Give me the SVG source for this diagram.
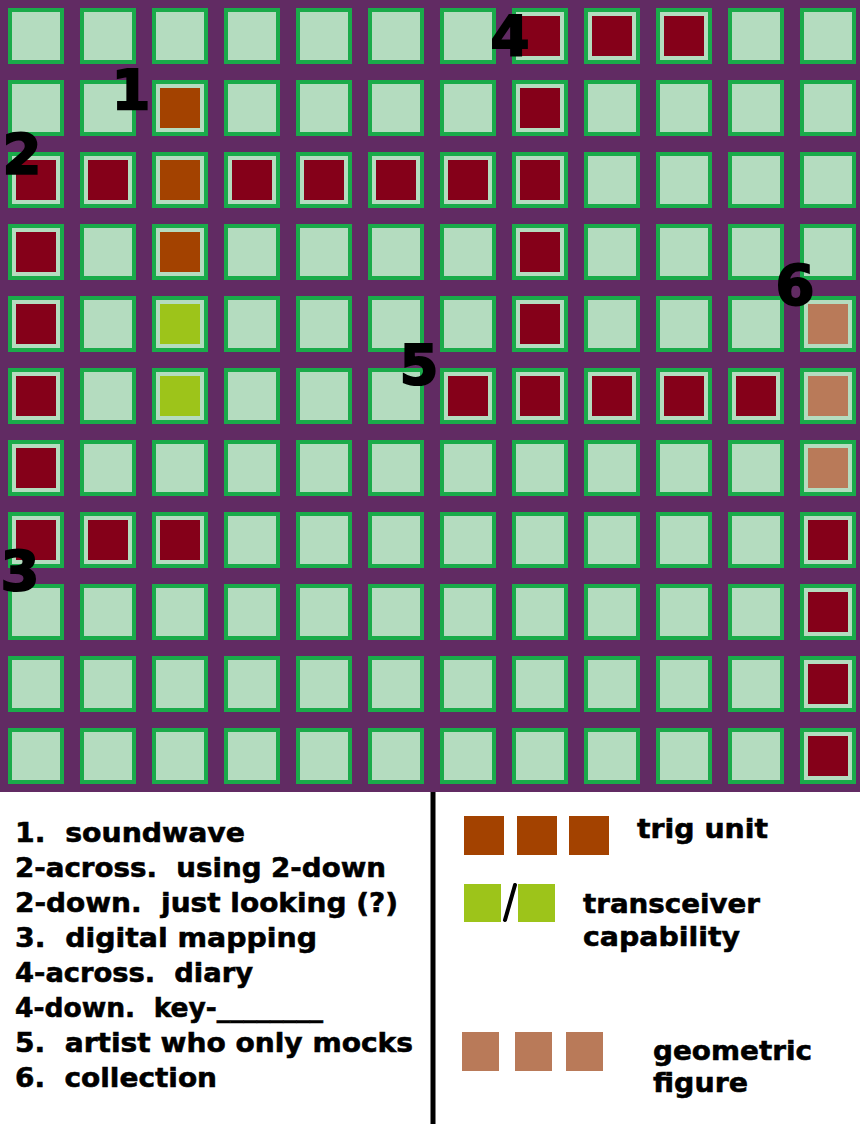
<svg xmlns="http://www.w3.org/2000/svg" width="860" height="1126" viewBox="0 0 860 1126">
<style>
.cell{fill:#b4dcbf;stroke:#1aab4a;stroke-width:4}
.red{fill:#850019}
.org{fill:#a34200}
.lime{fill:#9dc41a}
.tan{fill:#b97a59}
.num{font-family:"DejaVu Sans",sans-serif;font-weight:bold;font-size:56px;fill:#000;stroke:#000;stroke-width:2;text-anchor:middle}
.clue{font-family:"DejaVu Sans",sans-serif;font-weight:bold;font-size:26px;fill:#000;stroke:#000;stroke-width:0.55;white-space:pre}
</style>
<rect x="0" y="0" width="860" height="1126" fill="#ffffff"/>
<rect id="board" x="0" y="0" width="860" height="792" fill="#612b63"/>
<g id="cells">
<g id="r0c0"><rect class="cell" x="10" y="10" width="52" height="52"/></g>
<g id="r0c1"><rect class="cell" x="82" y="10" width="52" height="52"/></g>
<g id="r0c2"><rect class="cell" x="154" y="10" width="52" height="52"/></g>
<g id="r0c3"><rect class="cell" x="226" y="10" width="52" height="52"/></g>
<g id="r0c4"><rect class="cell" x="298" y="10" width="52" height="52"/></g>
<g id="r0c5"><rect class="cell" x="370" y="10" width="52" height="52"/></g>
<g id="r0c6"><rect class="cell" x="442" y="10" width="52" height="52"/></g>
<g id="r0c7"><rect class="cell" x="514" y="10" width="52" height="52"/><rect class="red" x="520" y="16" width="40" height="40"/></g>
<g id="r0c8"><rect class="cell" x="586" y="10" width="52" height="52"/><rect class="red" x="592" y="16" width="40" height="40"/></g>
<g id="r0c9"><rect class="cell" x="658" y="10" width="52" height="52"/><rect class="red" x="664" y="16" width="40" height="40"/></g>
<g id="r0c10"><rect class="cell" x="730" y="10" width="52" height="52"/></g>
<g id="r0c11"><rect class="cell" x="802" y="10" width="52" height="52"/></g>

<g id="r1c0"><rect class="cell" x="10" y="82" width="52" height="52"/></g>
<g id="r1c1"><rect class="cell" x="82" y="82" width="52" height="52"/></g>
<g id="r1c2"><rect class="cell" x="154" y="82" width="52" height="52"/><rect class="org" x="160" y="88" width="40" height="40"/></g>
<g id="r1c3"><rect class="cell" x="226" y="82" width="52" height="52"/></g>
<g id="r1c4"><rect class="cell" x="298" y="82" width="52" height="52"/></g>
<g id="r1c5"><rect class="cell" x="370" y="82" width="52" height="52"/></g>
<g id="r1c6"><rect class="cell" x="442" y="82" width="52" height="52"/></g>
<g id="r1c7"><rect class="cell" x="514" y="82" width="52" height="52"/><rect class="red" x="520" y="88" width="40" height="40"/></g>
<g id="r1c8"><rect class="cell" x="586" y="82" width="52" height="52"/></g>
<g id="r1c9"><rect class="cell" x="658" y="82" width="52" height="52"/></g>
<g id="r1c10"><rect class="cell" x="730" y="82" width="52" height="52"/></g>
<g id="r1c11"><rect class="cell" x="802" y="82" width="52" height="52"/></g>

<g id="r2c0"><rect class="cell" x="10" y="154" width="52" height="52"/><rect class="red" x="16" y="160" width="40" height="40"/></g>
<g id="r2c1"><rect class="cell" x="82" y="154" width="52" height="52"/><rect class="red" x="88" y="160" width="40" height="40"/></g>
<g id="r2c2"><rect class="cell" x="154" y="154" width="52" height="52"/><rect class="org" x="160" y="160" width="40" height="40"/></g>
<g id="r2c3"><rect class="cell" x="226" y="154" width="52" height="52"/><rect class="red" x="232" y="160" width="40" height="40"/></g>
<g id="r2c4"><rect class="cell" x="298" y="154" width="52" height="52"/><rect class="red" x="304" y="160" width="40" height="40"/></g>
<g id="r2c5"><rect class="cell" x="370" y="154" width="52" height="52"/><rect class="red" x="376" y="160" width="40" height="40"/></g>
<g id="r2c6"><rect class="cell" x="442" y="154" width="52" height="52"/><rect class="red" x="448" y="160" width="40" height="40"/></g>
<g id="r2c7"><rect class="cell" x="514" y="154" width="52" height="52"/><rect class="red" x="520" y="160" width="40" height="40"/></g>
<g id="r2c8"><rect class="cell" x="586" y="154" width="52" height="52"/></g>
<g id="r2c9"><rect class="cell" x="658" y="154" width="52" height="52"/></g>
<g id="r2c10"><rect class="cell" x="730" y="154" width="52" height="52"/></g>
<g id="r2c11"><rect class="cell" x="802" y="154" width="52" height="52"/></g>

<g id="r3c0"><rect class="cell" x="10" y="226" width="52" height="52"/><rect class="red" x="16" y="232" width="40" height="40"/></g>
<g id="r3c1"><rect class="cell" x="82" y="226" width="52" height="52"/></g>
<g id="r3c2"><rect class="cell" x="154" y="226" width="52" height="52"/><rect class="org" x="160" y="232" width="40" height="40"/></g>
<g id="r3c3"><rect class="cell" x="226" y="226" width="52" height="52"/></g>
<g id="r3c4"><rect class="cell" x="298" y="226" width="52" height="52"/></g>
<g id="r3c5"><rect class="cell" x="370" y="226" width="52" height="52"/></g>
<g id="r3c6"><rect class="cell" x="442" y="226" width="52" height="52"/></g>
<g id="r3c7"><rect class="cell" x="514" y="226" width="52" height="52"/><rect class="red" x="520" y="232" width="40" height="40"/></g>
<g id="r3c8"><rect class="cell" x="586" y="226" width="52" height="52"/></g>
<g id="r3c9"><rect class="cell" x="658" y="226" width="52" height="52"/></g>
<g id="r3c10"><rect class="cell" x="730" y="226" width="52" height="52"/></g>
<g id="r3c11"><rect class="cell" x="802" y="226" width="52" height="52"/></g>

<g id="r4c0"><rect class="cell" x="10" y="298" width="52" height="52"/><rect class="red" x="16" y="304" width="40" height="40"/></g>
<g id="r4c1"><rect class="cell" x="82" y="298" width="52" height="52"/></g>
<g id="r4c2"><rect class="cell" x="154" y="298" width="52" height="52"/><rect class="lime" x="160" y="304" width="40" height="40"/></g>
<g id="r4c3"><rect class="cell" x="226" y="298" width="52" height="52"/></g>
<g id="r4c4"><rect class="cell" x="298" y="298" width="52" height="52"/></g>
<g id="r4c5"><rect class="cell" x="370" y="298" width="52" height="52"/></g>
<g id="r4c6"><rect class="cell" x="442" y="298" width="52" height="52"/></g>
<g id="r4c7"><rect class="cell" x="514" y="298" width="52" height="52"/><rect class="red" x="520" y="304" width="40" height="40"/></g>
<g id="r4c8"><rect class="cell" x="586" y="298" width="52" height="52"/></g>
<g id="r4c9"><rect class="cell" x="658" y="298" width="52" height="52"/></g>
<g id="r4c10"><rect class="cell" x="730" y="298" width="52" height="52"/></g>
<g id="r4c11"><rect class="cell" x="802" y="298" width="52" height="52"/><rect class="tan" x="808" y="304" width="40" height="40"/></g>

<g id="r5c0"><rect class="cell" x="10" y="370" width="52" height="52"/><rect class="red" x="16" y="376" width="40" height="40"/></g>
<g id="r5c1"><rect class="cell" x="82" y="370" width="52" height="52"/></g>
<g id="r5c2"><rect class="cell" x="154" y="370" width="52" height="52"/><rect class="lime" x="160" y="376" width="40" height="40"/></g>
<g id="r5c3"><rect class="cell" x="226" y="370" width="52" height="52"/></g>
<g id="r5c4"><rect class="cell" x="298" y="370" width="52" height="52"/></g>
<g id="r5c5"><rect class="cell" x="370" y="370" width="52" height="52"/></g>
<g id="r5c6"><rect class="cell" x="442" y="370" width="52" height="52"/><rect class="red" x="448" y="376" width="40" height="40"/></g>
<g id="r5c7"><rect class="cell" x="514" y="370" width="52" height="52"/><rect class="red" x="520" y="376" width="40" height="40"/></g>
<g id="r5c8"><rect class="cell" x="586" y="370" width="52" height="52"/><rect class="red" x="592" y="376" width="40" height="40"/></g>
<g id="r5c9"><rect class="cell" x="658" y="370" width="52" height="52"/><rect class="red" x="664" y="376" width="40" height="40"/></g>
<g id="r5c10"><rect class="cell" x="730" y="370" width="52" height="52"/><rect class="red" x="736" y="376" width="40" height="40"/></g>
<g id="r5c11"><rect class="cell" x="802" y="370" width="52" height="52"/><rect class="tan" x="808" y="376" width="40" height="40"/></g>

<g id="r6c0"><rect class="cell" x="10" y="442" width="52" height="52"/><rect class="red" x="16" y="448" width="40" height="40"/></g>
<g id="r6c1"><rect class="cell" x="82" y="442" width="52" height="52"/></g>
<g id="r6c2"><rect class="cell" x="154" y="442" width="52" height="52"/></g>
<g id="r6c3"><rect class="cell" x="226" y="442" width="52" height="52"/></g>
<g id="r6c4"><rect class="cell" x="298" y="442" width="52" height="52"/></g>
<g id="r6c5"><rect class="cell" x="370" y="442" width="52" height="52"/></g>
<g id="r6c6"><rect class="cell" x="442" y="442" width="52" height="52"/></g>
<g id="r6c7"><rect class="cell" x="514" y="442" width="52" height="52"/></g>
<g id="r6c8"><rect class="cell" x="586" y="442" width="52" height="52"/></g>
<g id="r6c9"><rect class="cell" x="658" y="442" width="52" height="52"/></g>
<g id="r6c10"><rect class="cell" x="730" y="442" width="52" height="52"/></g>
<g id="r6c11"><rect class="cell" x="802" y="442" width="52" height="52"/><rect class="tan" x="808" y="448" width="40" height="40"/></g>

<g id="r7c0"><rect class="cell" x="10" y="514" width="52" height="52"/><rect class="red" x="16" y="520" width="40" height="40"/></g>
<g id="r7c1"><rect class="cell" x="82" y="514" width="52" height="52"/><rect class="red" x="88" y="520" width="40" height="40"/></g>
<g id="r7c2"><rect class="cell" x="154" y="514" width="52" height="52"/><rect class="red" x="160" y="520" width="40" height="40"/></g>
<g id="r7c3"><rect class="cell" x="226" y="514" width="52" height="52"/></g>
<g id="r7c4"><rect class="cell" x="298" y="514" width="52" height="52"/></g>
<g id="r7c5"><rect class="cell" x="370" y="514" width="52" height="52"/></g>
<g id="r7c6"><rect class="cell" x="442" y="514" width="52" height="52"/></g>
<g id="r7c7"><rect class="cell" x="514" y="514" width="52" height="52"/></g>
<g id="r7c8"><rect class="cell" x="586" y="514" width="52" height="52"/></g>
<g id="r7c9"><rect class="cell" x="658" y="514" width="52" height="52"/></g>
<g id="r7c10"><rect class="cell" x="730" y="514" width="52" height="52"/></g>
<g id="r7c11"><rect class="cell" x="802" y="514" width="52" height="52"/><rect class="red" x="808" y="520" width="40" height="40"/></g>

<g id="r8c0"><rect class="cell" x="10" y="586" width="52" height="52"/></g>
<g id="r8c1"><rect class="cell" x="82" y="586" width="52" height="52"/></g>
<g id="r8c2"><rect class="cell" x="154" y="586" width="52" height="52"/></g>
<g id="r8c3"><rect class="cell" x="226" y="586" width="52" height="52"/></g>
<g id="r8c4"><rect class="cell" x="298" y="586" width="52" height="52"/></g>
<g id="r8c5"><rect class="cell" x="370" y="586" width="52" height="52"/></g>
<g id="r8c6"><rect class="cell" x="442" y="586" width="52" height="52"/></g>
<g id="r8c7"><rect class="cell" x="514" y="586" width="52" height="52"/></g>
<g id="r8c8"><rect class="cell" x="586" y="586" width="52" height="52"/></g>
<g id="r8c9"><rect class="cell" x="658" y="586" width="52" height="52"/></g>
<g id="r8c10"><rect class="cell" x="730" y="586" width="52" height="52"/></g>
<g id="r8c11"><rect class="cell" x="802" y="586" width="52" height="52"/><rect class="red" x="808" y="592" width="40" height="40"/></g>

<g id="r9c0"><rect class="cell" x="10" y="658" width="52" height="52"/></g>
<g id="r9c1"><rect class="cell" x="82" y="658" width="52" height="52"/></g>
<g id="r9c2"><rect class="cell" x="154" y="658" width="52" height="52"/></g>
<g id="r9c3"><rect class="cell" x="226" y="658" width="52" height="52"/></g>
<g id="r9c4"><rect class="cell" x="298" y="658" width="52" height="52"/></g>
<g id="r9c5"><rect class="cell" x="370" y="658" width="52" height="52"/></g>
<g id="r9c6"><rect class="cell" x="442" y="658" width="52" height="52"/></g>
<g id="r9c7"><rect class="cell" x="514" y="658" width="52" height="52"/></g>
<g id="r9c8"><rect class="cell" x="586" y="658" width="52" height="52"/></g>
<g id="r9c9"><rect class="cell" x="658" y="658" width="52" height="52"/></g>
<g id="r9c10"><rect class="cell" x="730" y="658" width="52" height="52"/></g>
<g id="r9c11"><rect class="cell" x="802" y="658" width="52" height="52"/><rect class="red" x="808" y="664" width="40" height="40"/></g>

<g id="r10c0"><rect class="cell" x="10" y="730" width="52" height="52"/></g>
<g id="r10c1"><rect class="cell" x="82" y="730" width="52" height="52"/></g>
<g id="r10c2"><rect class="cell" x="154" y="730" width="52" height="52"/></g>
<g id="r10c3"><rect class="cell" x="226" y="730" width="52" height="52"/></g>
<g id="r10c4"><rect class="cell" x="298" y="730" width="52" height="52"/></g>
<g id="r10c5"><rect class="cell" x="370" y="730" width="52" height="52"/></g>
<g id="r10c6"><rect class="cell" x="442" y="730" width="52" height="52"/></g>
<g id="r10c7"><rect class="cell" x="514" y="730" width="52" height="52"/></g>
<g id="r10c8"><rect class="cell" x="586" y="730" width="52" height="52"/></g>
<g id="r10c9"><rect class="cell" x="658" y="730" width="52" height="52"/></g>
<g id="r10c10"><rect class="cell" x="730" y="730" width="52" height="52"/></g>
<g id="r10c11"><rect class="cell" x="802" y="730" width="52" height="52"/><rect class="red" x="808" y="736" width="40" height="40"/></g>
</g>
<g id="numbers">
<text class="num" x="131" y="109">1</text>
<text class="num" x="22" y="173">2</text>
<text class="num" x="20" y="590">3</text>
<text class="num" x="510" y="55">4</text>
<text class="num" x="419" y="384">5</text>
<text class="num" x="795" y="304">6</text>
</g>
<g id="connectors">
<line x1="433" y1="792" x2="433" y2="1124" stroke="#000" stroke-width="5"/>
</g>
<g id="clues">
<text class="clue" x="15" y="842" textLength="230" lengthAdjust="spacingAndGlyphs">1.  soundwave</text>
<text class="clue" x="15" y="877" textLength="371" lengthAdjust="spacingAndGlyphs">2-across.  using 2-down</text>
<text class="clue" x="15" y="912" textLength="383" lengthAdjust="spacingAndGlyphs">2-down.  just looking (?)</text>
<text class="clue" x="15" y="947" textLength="302" lengthAdjust="spacingAndGlyphs">3.  digital mapping</text>
<text class="clue" x="15" y="982" textLength="238" lengthAdjust="spacingAndGlyphs">4-across.  diary</text>
<text class="clue" x="15" y="1017" textLength="308" lengthAdjust="spacingAndGlyphs">4-down.  key-________</text>
<text class="clue" x="15" y="1052" textLength="398" lengthAdjust="spacingAndGlyphs">5.  artist who only mocks</text>
<text class="clue" x="15" y="1087" textLength="202" lengthAdjust="spacingAndGlyphs">6.  collection</text>
</g>
<g id="legend-trig">
<rect class="org" x="464" y="816" width="40" height="39"/>
<rect class="org" x="517" y="816" width="40" height="39"/>
<rect class="org" x="569" y="816" width="40" height="39"/>
<text class="clue" x="637" y="838" textLength="131" lengthAdjust="spacingAndGlyphs">trig unit</text>
</g>
<g id="legend-transceiver">
<rect class="lime" x="464" y="884" width="37" height="38"/>
<rect class="lime" x="518" y="884" width="37" height="38"/>
<line x1="515" y1="885" x2="505" y2="920" stroke="#000" stroke-width="4" stroke-linecap="round"/>
<text class="clue" x="583" y="913" textLength="177" lengthAdjust="spacingAndGlyphs">transceiver</text>
<text class="clue" x="583" y="946" textLength="157" lengthAdjust="spacingAndGlyphs">capability</text>
</g>
<g id="legend-geometric">
<rect class="tan" x="462" y="1032" width="37" height="39"/>
<rect class="tan" x="515" y="1032" width="37" height="39"/>
<rect class="tan" x="566" y="1032" width="37" height="39"/>
<text class="clue" x="653" y="1060" textLength="159" lengthAdjust="spacingAndGlyphs">geometric</text>
<text class="clue" x="653" y="1092" textLength="95" lengthAdjust="spacingAndGlyphs">figure</text>
</g>
</svg>
